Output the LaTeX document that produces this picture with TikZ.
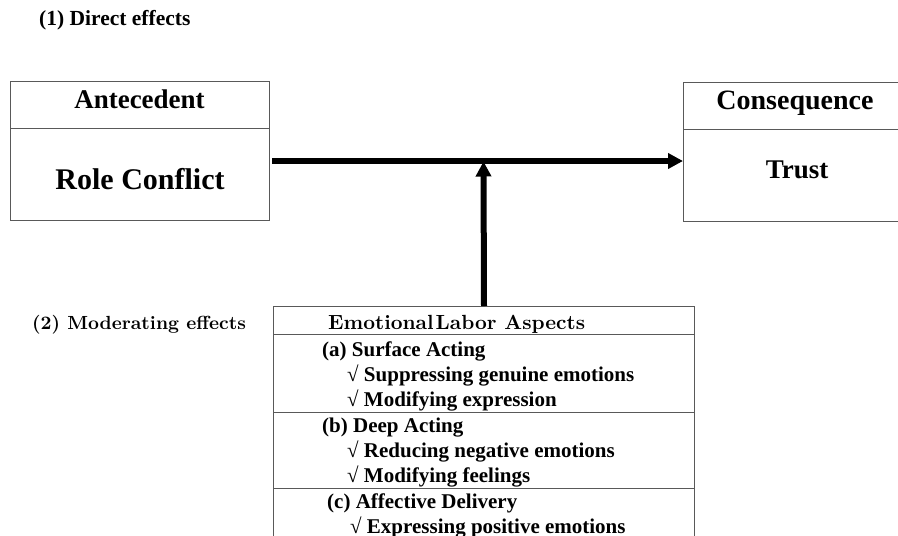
\documentclass[tikz,border=0pt]{standalone}
\usepackage{fontspec}
\newfontfamily\tnr{Liberation Serif}
\newfontfamily\lmbx{lmroman10-bold}[Extension=.otf]
\usetikzlibrary{arrows.meta}
\begin{document}
\begin{tikzpicture}[x=1pt,y=-1pt,
  box/.style={draw=black!65, line width=1pt, rectangle, inner sep=0pt, anchor=north west},
  divider/.style={draw=black!65, line width=1pt},
  arr/.style={line width=6pt, -{Triangle[length=15pt,width=15pt]}},
  lbl/.style={inner sep=0pt, anchor=base west},
  head/.style={inner sep=0pt, anchor=base, font=\tnr\bfseries\fontsize{27}{30}\selectfont},
  item/.style={inner sep=0pt, anchor=base west, font=\tnr\bfseries\fontsize{21}{24}\selectfont}
]
\useasboundingbox (0,0) rectangle (898,536);
\clip (0,0) rectangle (898,536);

% section labels
\node[lbl, font=\tnr\bfseries\fontsize{21.5}{24}\selectfont] (lab1) at (39,25) {(1) Direct effects};
\node[lbl, font=\lmbx\fontsize{19}{22}\selectfont] (lab2) at (32,329) {(2) Moderating effects};

% antecedent box
\node[box, minimum width=259pt, minimum height=139pt] (ante) at (10,81) {};
\draw[divider] (ante.west |- 0,128) -- (ante.east |- 0,128);
\node[head] (antet) at (139.5,108.5) {Antecedent};
\node[head, font=\tnr\bfseries\fontsize{30}{33}\selectfont] (role) at (140,189) {Role Conflict};

% consequence box (runs past the right edge)
\node[box, minimum width=224pt, minimum height=139pt] (cons) at (683,82) {};
\draw[divider] (cons.west |- 0,129) -- (cons.east |- 0,129);
\node[head, font=\tnr\bfseries\fontsize{28}{31}\selectfont] (const) at (795,109.5) {Consequence};
\node[head] (trust) at (797,178) {Trust};

% emotional labor box (runs past the bottom edge)
\node[box, minimum width=421pt, minimum height=260pt] (emo) at (273,306) {};
\draw[divider] (emo.west |- 0,334) -- (emo.east |- 0,334);
\draw[divider] (emo.west |- 0,412) -- (emo.east |- 0,412);
\draw[divider] (emo.west |- 0,488) -- (emo.east |- 0,488);
\node[lbl, font=\lmbx\fontsize{20.5}{23}\selectfont] (emot) at (328,329) {Emotional\kern2pt Labor Aspects};
\node[item] (a0) at (322,356) {(a) Surface Acting};
\node[item] (a1) at (347,381) {√ Suppressing genuine emotions};
\node[item] (a2) at (347,406.5) {√ Modifying expression};
\node[item] (b0) at (322,432) {(b) Deep Acting};
\node[item] (b1) at (347,457) {√ Reducing negative emotions};
\node[item] (b2) at (347,482.5) {√ Modifying feelings};
\node[item] (c0) at (327,508) {(c) Affective Delivery};
\node[item] (c1) at (350,533) {√ Expressing positive emotions};

% connectors
\coordinate (hs) at (272,161);
\coordinate (junc) at (483.5,161.5);
\draw[arr] (hs) -- (cons.west |- hs);
\draw[arr] (emo.north) -- (junc);
\end{tikzpicture}
\end{document}
